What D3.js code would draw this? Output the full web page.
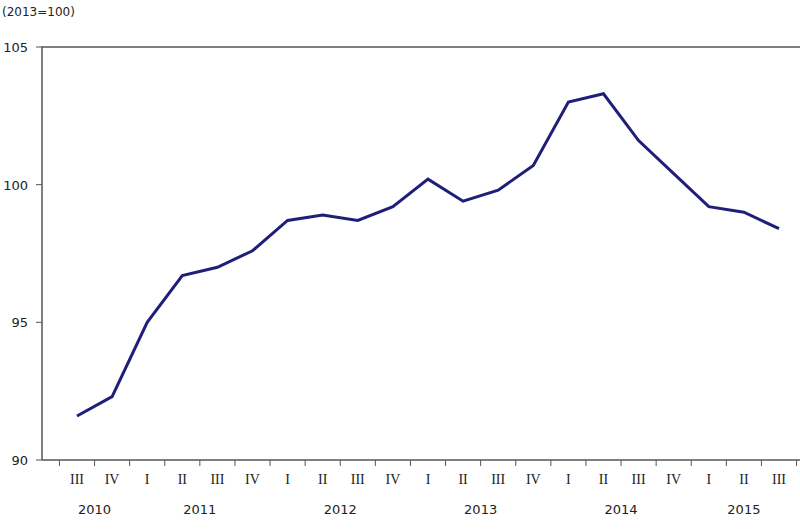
<!DOCTYPE html>
<html><head><meta charset="utf-8">
<script src="https://cdn.jsdelivr.net/npm/d3@7"></script>
<style>body{margin:0;background:#fff}text{font-family:"DejaVu Sans",Verdana,sans-serif;fill:#222}</style>
</head><body>
<svg id="chart" width="800" height="532"></svg>
<script>
// trimestres et valeurs de l'indice
const quarters = ["III","IV","I","II","III","IV","I","II","III","IV","I","II","III","IV","I","II","III","IV","I","II","III"];
const values = [91.6,92.3,95.0,96.7,97.0,97.6,98.7,98.9,98.7,99.2,100.2,99.4,99.8,100.7,103.0,103.3,101.6,100.4,99.2,99.0,98.4];
const years = [{y:"2010",a:0,b:1},{y:"2011",a:2,b:5},{y:"2012",a:6,b:9},{y:"2013",a:10,b:13},{y:"2014",a:14,b:17},{y:"2015",a:18,b:20}];
const yTicks = [90,95,100,105];

const svg = d3.select("#chart");
const x = d3.scaleLinear().domain([0, quarters.length - 1]).range([77, 779]);
const y = d3.scaleLinear().domain([90, 105]).range([460, 47]);

svg.append("text").attr("x", 2).attr("y", 16).style("font-size", "12px").text("(2013=100)");

// cadre
svg.append("path").attr("d", `M42,460V47H800`).attr("fill", "none").attr("stroke", "#555").attr("stroke-width", 1.5);
svg.append("line").attr("x1", 42).attr("x2", 800).attr("y1", 460).attr("y2", 460).attr("stroke", "#555").attr("stroke-width", 1.5);

svg.selectAll(".yt").data(yTicks).enter().append("text")
    .attr("x", 28).attr("y", d => y(d) + 5).attr("text-anchor", "end").style("font-size", "13px").text(d => d);
svg.selectAll(".ytick").data(yTicks).enter().append("line")
    .attr("x1", 36).attr("x2", 42).attr("y1", d => y(d)).attr("y2", d => y(d)).attr("stroke", "#555");

svg.selectAll(".xtick").data(d3.range(quarters.length + 1)).enter().append("line")
    .attr("x1", d => x(d - 0.5)).attr("x2", d => x(d - 0.5)).attr("y1", 460).attr("y2", 466).attr("stroke", "#555");

svg.selectAll(".ql").data(quarters).enter().append("text")
    .attr("x", (d, i) => x(i)).attr("y", 484).attr("text-anchor", "middle")
    .style("font-family", "'Liberation Serif',serif").style("font-size", "14px").text(d => d);
svg.selectAll(".yl").data(years).enter().append("text")
    .attr("x", d => x((d.a + d.b) / 2)).attr("y", 514).attr("text-anchor", "middle").style("font-size", "13px").text(d => d.y);

svg.append("path").datum(values)
    .attr("d", d3.line().x((d, i) => x(i)).y(d => y(d)))
    .attr("fill", "none").attr("stroke", "#1f1f7a").attr("stroke-width", 3);
</script>
</body></html>
